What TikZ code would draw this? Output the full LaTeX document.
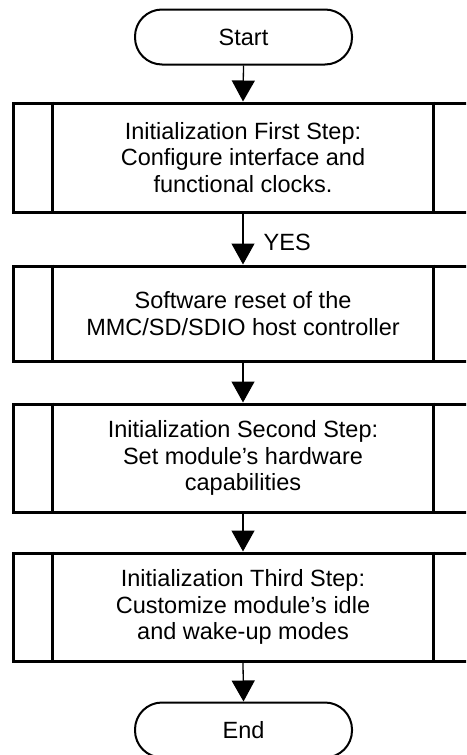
\documentclass[tikz,border=0pt]{standalone}
\usepackage{fontspec}
\setmainfont{Liberation Sans}
\usetikzlibrary{arrows.meta,calc}
\begin{document}
\begin{tikzpicture}[x=1pt,y=-1pt,
  every node/.style={font=\fontsize{23.5}{26.7}\selectfont},
  term/.style={draw, line width=2pt, rounded corners=27pt, minimum width=217pt, minimum height=55pt, inner sep=0pt},
  proc/.style={draw, line width=3pt, minimum width=460pt, align=center, inner sep=0pt},
  sidebar/.style={line width=3pt},
  arr/.style={line width=1.3pt, -{Triangle[length=21pt,width=23pt]}}]
\useasboundingbox (0,0) rectangle (466,755);
\clip (0,0) rectangle (466,755);
\node[term] (start) at (243.5,37) {Start};
\node[proc, minimum height=109pt] (b1) at (243,157.5) {Initialization First Step:\\Configure interface and\\functional clocks.};
\node[proc, minimum height=95pt] (b2) at (243,313.5) {Software reset of the\\MMC/SD/SDIO host controller};
\node[proc, minimum height=108pt] (b3) at (243,458) {Initialization Second Step:\\Set module’s hardware\\capabilities};
\node[proc, minimum height=108pt] (b4) at (243,607) {Initialization Third Step:\\Customize module’s idle\\and wake-up modes};
\node[term] (end) at (243.5,730) {End};
\foreach \b in {b1,b2,b3,b4}{
  \draw[sidebar] ($(\b.north west)+(41,0)$) -- ($(\b.south west)+(41,0)$);
  \draw[sidebar] ($(\b.north east)+(-41,0)$) -- ($(\b.south east)+(-41,0)$);
}
\draw[arr] (start.south) -- (b1.north);
\draw[arr] (b1.south) -- node[right=20pt, inner sep=0pt, yshift=-3pt] {YES} (b2.north);
\draw[arr] (b2.south) -- (b3.north);
\draw[arr] (b3.south) -- (b4.north);
\draw[arr] (b4.south) -- (end.north);
\end{tikzpicture}
\end{document}
